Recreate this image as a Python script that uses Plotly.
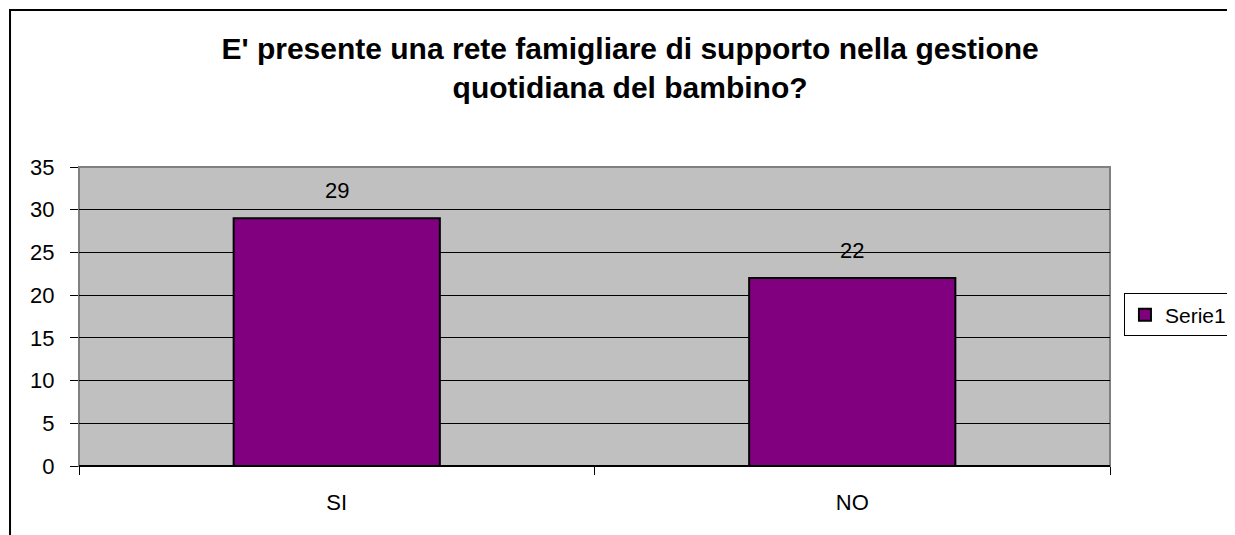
import plotly.graph_objects as go

categories = ["SI", "NO"]
values = [29, 22]
series_name = "Serie1"
title_lines = ["E' presente una rete famigliare di supporto nella gestione", "quotidiana del bambino?"]
y_ticks = [0, 5, 10, 15, 20, 25, 30, 35]

FONT = "Liberation Sans, Arial, sans-serif"

# the page body adds an 8px margin, so the figure is offset by (8, 8)
W, H = 1227, 527
L, T, R, B = 71, 159, 125, 69

fig = go.Figure()
fig.add_trace(go.Bar(
    x=categories, y=values, name=series_name,
    marker=dict(color="#800080", line=dict(color="black", width=2)),
    width=0.4, showlegend=True,
))

for c, v in zip(categories, values):
    fig.add_annotation(x=c, y=v, xref="x", yref="y", text=str(v), showarrow=False,
                       yshift=28, font=dict(size=22, color="black", family=FONT))

fig.update_layout(
    width=W, height=H,
    margin=dict(l=L, r=R, t=T, b=B, autoexpand=False),
    paper_bgcolor="white", plot_bgcolor="#C0C0C0",
    font=dict(family=FONT, size=22, color="black"),
    title=dict(text="<b>" + "<br>".join(title_lines) + "</b>", x=0.507, xref="container",
               xanchor="center", y=0.904, yref="container", yanchor="middle",
               font=dict(size=30, family=FONT, color="black")),
    legend=dict(x=0.9095, y=0.4175, xref="container", yref="container",
                xanchor="left", yanchor="middle", bordercolor="black",
                borderwidth=1, bgcolor="white", font=dict(size=21, family=FONT),
                itemwidth=30),
    bargap=0.6,
    xaxis=dict(showgrid=False, ticks="outside", tickson="boundaries", ticklen=8,
               tickcolor="black", tickwidth=1, ticklabelstandoff=21, zeroline=False,
               showline=False, tickfont=dict(size=22)),
    yaxis=dict(range=[0, 35], tickvals=y_ticks, showgrid=True, gridcolor="black",
               gridwidth=1, ticks="outside", ticklen=8, tickcolor="black", tickwidth=1,
               ticklabelstandoff=11, zeroline=False, showline=False, tickfont=dict(size=22)),
)

# plot-area frame (gray) and baseline (black)
fig.add_shape(type="rect", xref="paper", yref="paper", x0=0, x1=1, y0=0, y1=1,
              line=dict(color="#808080", width=2), layer="below")
fig.add_shape(type="line", xref="paper", yref="paper", x0=0, x1=1, y0=0, y1=0,
              line=dict(color="black", width=2), layer="above")
# outer chart border (right and bottom edges lie outside the picture)
fig.add_shape(type="rect", xref="paper", yref="paper", x0=-0.0669, x1=1.3, y0=-0.4, y1=1.525,
              line=dict(color="black", width=2), fillcolor="rgba(0,0,0,0)", layer="above")

fig.write_html("out.html")
